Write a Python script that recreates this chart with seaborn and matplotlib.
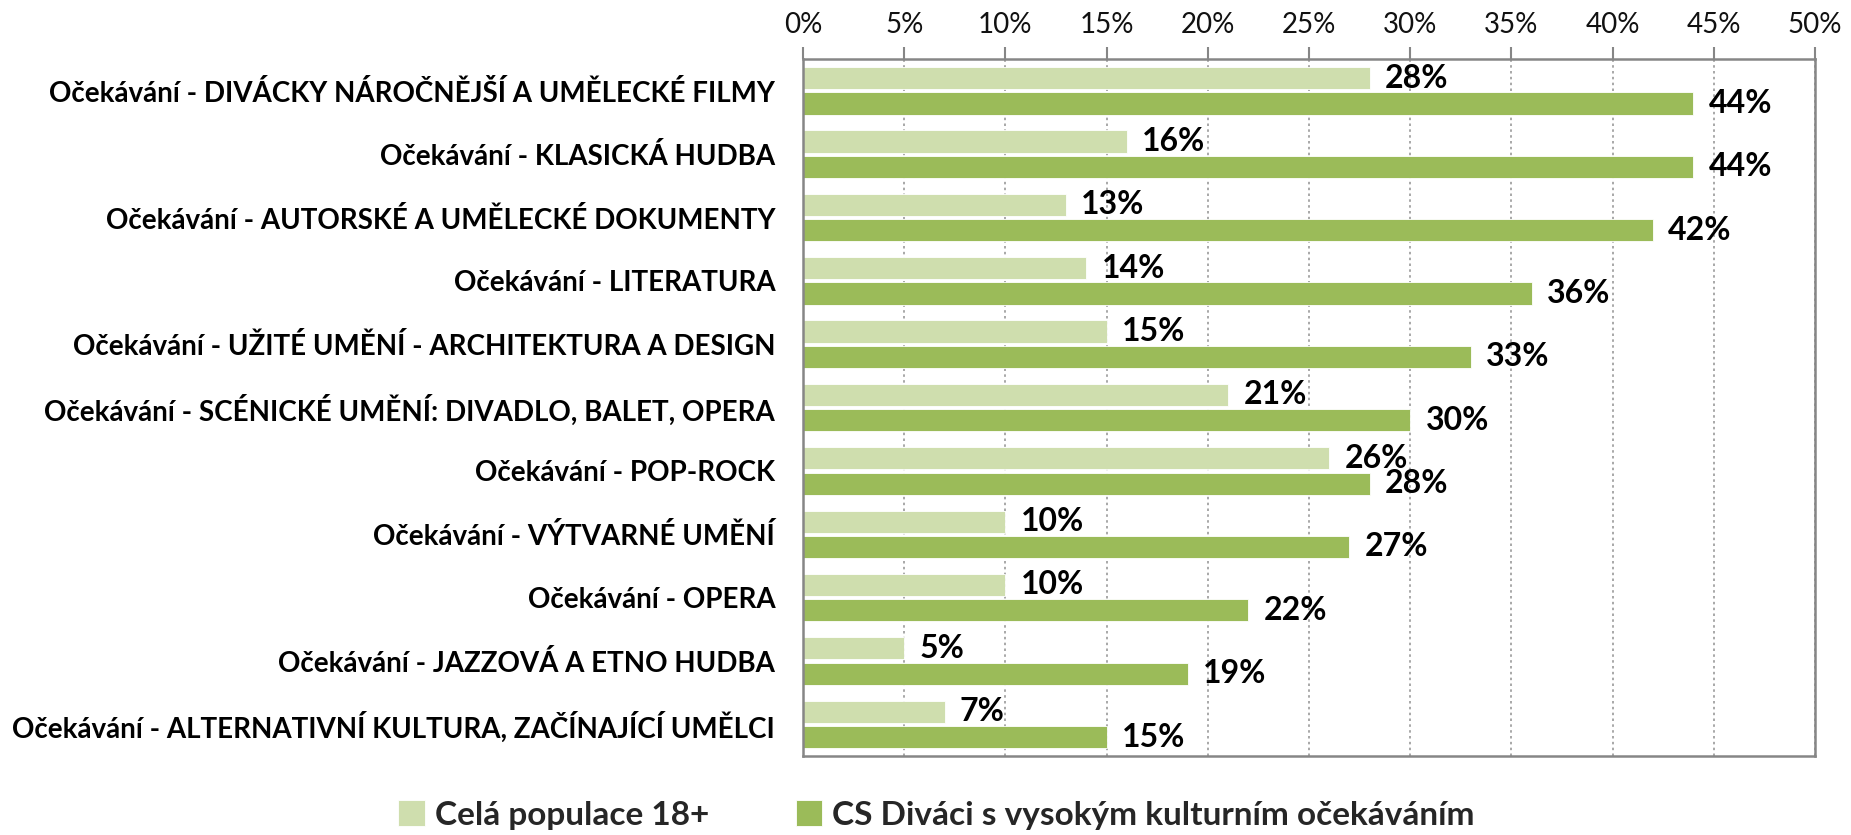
import matplotlib
matplotlib.use("Agg")
import matplotlib.pyplot as plt
import matplotlib.ticker as mticker
import numpy as np
import pandas as pd
import seaborn as sns

# Categories (top to bottom) and shares in percent
categories = [
    "Očekávání - DIVÁCKY NÁROČNĚJŠÍ A UMĚLECKÉ FILMY",
    "Očekávání - KLASICKÁ HUDBA",
    "Očekávání - AUTORSKÉ A UMĚLECKÉ DOKUMENTY",
    "Očekávání - LITERATURA",
    "Očekávání - UŽITÉ UMĚNÍ - ARCHITEKTURA A DESIGN",
    "Očekávání - SCÉNICKÉ UMĚNÍ: DIVADLO, BALET, OPERA",
    "Očekávání - POP-ROCK",
    "Očekávání - VÝTVARNÉ UMĚNÍ",
    "Očekávání - OPERA",
    "Očekávání - JAZZOVÁ A ETNO HUDBA",
    "Očekávání - ALTERNATIVNÍ KULTURA, ZAČÍNAJÍCÍ UMĚLCI",
]
population = [28, 16, 13, 14, 15, 21, 26, 10, 10, 5, 7]
high_expectation = [44, 44, 42, 36, 33, 30, 28, 27, 22, 19, 15]
series_names = ["Celá populace 18+", "CS Diváci s vysokým kulturním očekáváním"]
x_ticks = list(range(0, 55, 5))

sns.set_theme(style="white")
plt.rcParams["font.family"] = ["Lato", "DejaVu Sans"]

df = pd.DataFrame({
    "kategorie": categories * 2,
    "podil": population + high_expectation,
    "skupina": [series_names[0]] * len(categories) + [series_names[1]] * len(categories),
})

fig = plt.figure(figsize=(18.51, 8.35), dpi=100)
ax = fig.add_axes([0.4338, 0.0946, 0.5467, 0.8344])

sns.barplot(
    data=df, y="kategorie", x="podil", hue="skupina", orient="h",
    order=categories, hue_order=series_names,
    palette=["#CFDEAE", "#9BBB59"], saturation=1, width=0.8, gap=0.12,
    edgecolor="white", linewidth=0.6, ax=ax, legend=True,
)

# Value labels at the bar ends
for cont in ax.containers:
    ax.bar_label(cont, fmt="%d%%", padding=11, fontsize=23, fontweight="bold",
                 color="black")

ax.set_xlim(0, 50)
ax.set_ylim(len(categories) - 0.5, -0.5)
ax.set_xticks(x_ticks)
ax.xaxis.set_major_formatter(mticker.FuncFormatter(lambda v, p: f"{v:.0f}%"))
ax.xaxis.tick_top()
ax.tick_params(axis="x", which="major", direction="out", length=9, width=1.5,
               color="#868686", labelsize=20, labelcolor="#111111", pad=6)

# Category labels at centers, tick marks at category boundaries
ax.set_yticks(range(len(categories)))
ax.set_yticklabels(categories)
ax.set_yticks(np.arange(-0.5, len(categories), 1.0), minor=True)
ax.tick_params(axis="y", which="major", length=0, labelsize=20, pad=20)
ax.tick_params(axis="y", which="minor", direction="out", length=10, width=1.5,
               color="#868686")
for lab in ax.get_yticklabels():
    lab.set_fontweight("bold")
    lab.set_color("black")

ax.set_xlabel("")
ax.set_ylabel("")
ax.xaxis.grid(True, linestyle=(0, (1.5, 2)), color="#9a9a9a", linewidth=1.2)
ax.set_axisbelow(True)
for side in ["top", "bottom", "left", "right"]:
    ax.spines[side].set_visible(True)
    ax.spines[side].set_color("#868686")
    ax.spines[side].set_linewidth(1.8)

handles, labels = ax.get_legend_handles_labels()
ax.get_legend().remove()
fig.legend(handles, labels, loc="center", bbox_to_anchor=(0.506, 0.024), ncol=2,
           frameon=False, prop={"size": 24, "weight": "bold"},
           handlelength=0.8, handleheight=0.8, handletextpad=0.3,
           columnspacing=2.6)

fig.savefig("out.png", dpi=100)
